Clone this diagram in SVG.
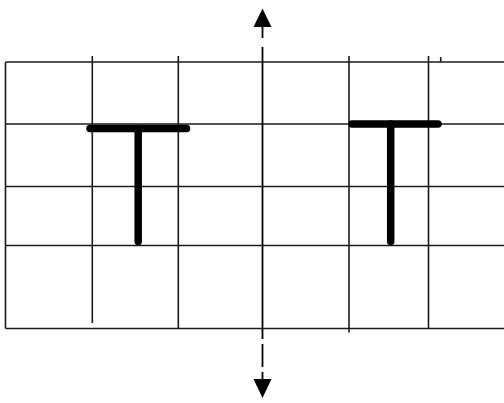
<svg xmlns="http://www.w3.org/2000/svg" width="504" height="403" viewBox="0 0 504 403">
<style>
.g{stroke:#1a1a1a;stroke-width:1.6;fill:none}
.t{stroke:#000;stroke-width:7.5;stroke-linecap:round;fill:none}
.ax{stroke:#000;stroke-width:1.8;fill:none}
.ah{fill:#000}
</style>
<rect width="504" height="403" fill="#fff"/>
<g id="grid">
<line class="g" x1="5.5" y1="62" x2="504" y2="62"/>
<line class="g" x1="5.5" y1="124" x2="504" y2="124"/>
<line class="g" x1="5.5" y1="186.5" x2="504" y2="186.5"/>
<line class="g" x1="5.5" y1="245.5" x2="504" y2="245.5"/>
<line class="g" x1="5.5" y1="328.5" x2="504" y2="328.5"/>
<line class="g" x1="5.5" y1="62" x2="5.5" y2="328.5"/>
<line class="g" x1="92.3" y1="56" x2="92.3" y2="323"/>
<line class="g" x1="178.3" y1="56" x2="178.3" y2="328.5"/>
<line class="g" x1="349" y1="56" x2="349" y2="332.5"/>
<line class="g" x1="428.5" y1="56" x2="428.5" y2="328.5"/>
<line class="g" x1="440.7" y1="57" x2="440.7" y2="62"/>
</g>
<g id="axis">
<line class="ax" x1="262.5" y1="26" x2="262.5" y2="38"/>
<line class="ax" x1="262.5" y1="47" x2="262.5" y2="339"/>
<line class="ax" x1="262.5" y1="344" x2="262.5" y2="367"/>
<line class="ax" x1="262.5" y1="372" x2="262.5" y2="380"/>
<polygon class="ah" points="262.5,8.5 271.5,27 253.5,27"/>
<polygon class="ah" points="262.5,398 271.5,379 253.5,379"/>
</g>
<g id="T-left">
<line class="t" x1="90" y1="128.5" x2="186.5" y2="128.5"/>
<line class="t" x1="138.2" y1="128.5" x2="138.2" y2="241.5"/>
</g>
<g id="T-right">
<line class="t" x1="352" y1="124" x2="438" y2="124"/>
<line class="t" x1="390.7" y1="124" x2="390.7" y2="241.5"/>
</g>
</svg>
